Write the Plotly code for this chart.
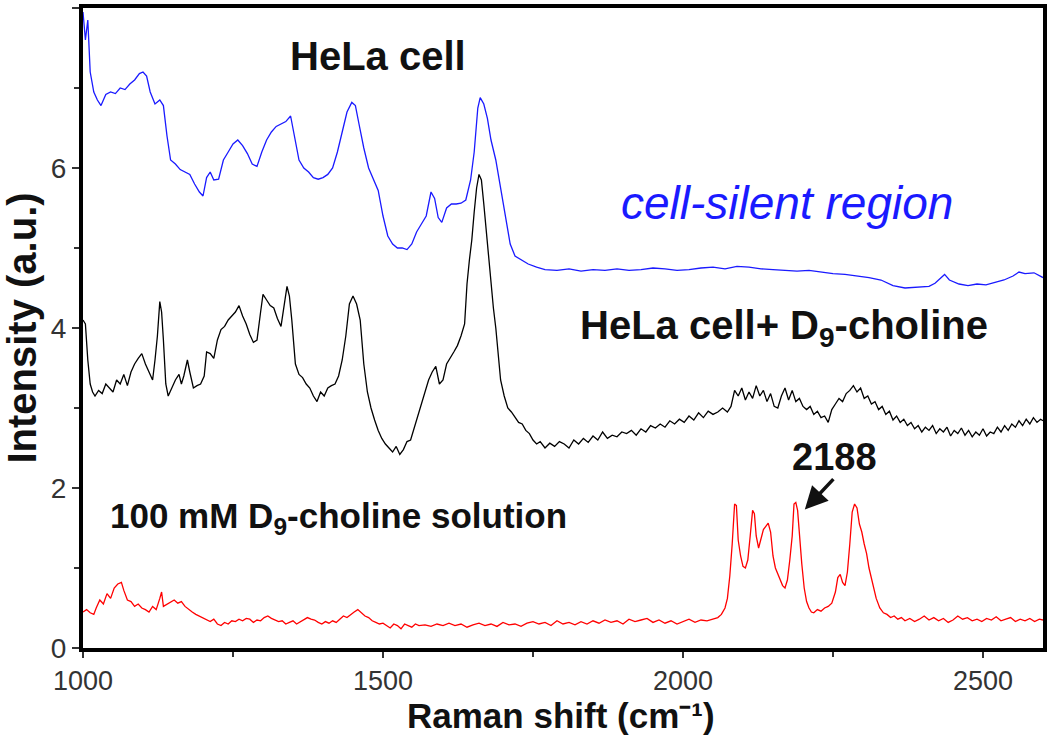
import plotly.graph_objects as go

# ---------------- data ----------------
hela_x = [1000,1004,1008,1012,1018,1024,1030,1038,1046,1054,1062,1070,1078,1086,1094,1100,1106,1112,1120,1128,
          1134,1140,1146,1154,1162,1170,1178,1186,1194,1200,1206,1212,1218,1226,1234,1242,1250,1258,1266,1274,
          1282,1290,1298,1306,1314,1322,1330,1338,1346,1352,1360,1368,1376,1384,1392,1400,1408,1416,1424,1432,
          1440,1448,1454,1460,1468,1476,1484,1492,1500,1508,1516,1524,1532,1540,1548,1556,1564,1572,1580,1586,
          1592,1598,1606,1614,1622,1630,1638,1646,1652,1658,1662,1668,1674,1680,1688,1696,1704,1712,1720,1730,
          1742,1756,1770,1790,1810,1830,1850,1870,1890,1910,1930,1950,1970,1990,2010,2030,2050,2070,2090,2110,
          2130,2150,2170,2190,2210,2230,2250,2270,2290,2310,2330,2350,2370,2390,2410,2420,2428,2436,2444,2452,
          2460,2475,2490,2505,2520,2535,2550,2560,2570,2585,2600]
hela_y = [7.95,7.6,7.85,7.2,6.95,6.85,6.78,6.92,6.95,6.93,7.0,6.98,7.05,7.1,7.18,7.2,7.15,6.95,6.8,6.85,
          6.78,6.4,6.1,6.05,5.98,5.95,5.92,5.8,5.7,5.65,5.88,5.95,5.85,5.86,6.1,6.2,6.3,6.35,6.28,6.18,
          6.05,6.02,6.2,6.35,6.45,6.52,6.55,6.58,6.65,6.4,6.1,6.0,5.95,5.88,5.86,5.88,5.92,6.0,6.2,6.45,
          6.7,6.82,6.78,6.55,6.25,6.0,5.85,5.72,5.4,5.15,5.05,5.0,5.0,4.98,5.05,5.2,5.3,5.4,5.7,5.62,
          5.38,5.32,5.5,5.55,5.55,5.56,5.6,5.85,6.2,6.75,6.88,6.8,6.62,6.35,6.1,5.75,5.35,5.05,4.9,4.85,
          4.8,4.76,4.73,4.72,4.74,4.71,4.73,4.72,4.74,4.72,4.73,4.75,4.74,4.72,4.73,4.75,4.76,4.74,4.77,4.76,
          4.74,4.73,4.72,4.71,4.72,4.7,4.68,4.67,4.65,4.63,4.6,4.53,4.5,4.51,4.52,4.56,4.62,4.67,4.6,4.57,
          4.55,4.53,4.55,4.54,4.57,4.6,4.65,4.7,4.68,4.69,4.63]

chol_x = [1000,1004,1008,1012,1016,1020,1026,1032,1038,1044,1050,1056,1062,1068,1074,1080,1086,1092,1098,1104,
          1110,1116,1120,1124,1128,1131,1134,1138,1142,1148,1154,1160,1164,1168,1174,1178,1184,1190,1196,1202,
          1206,1212,1218,1224,1230,1236,1242,1248,1254,1260,1266,1272,1278,1284,1290,1296,1300,1306,1312,1318,
          1324,1330,1336,1340,1344,1348,1354,1360,1366,1372,1378,1384,1390,1396,1402,1408,1414,1420,1426,1432,
          1438,1444,1450,1456,1462,1468,1474,1480,1486,1492,1498,1504,1510,1516,1522,1528,1534,1540,1546,1552,
          1558,1564,1570,1576,1582,1588,1594,1600,1606,1612,1618,1624,1630,1636,1640,1644,1648,1652,1656,1660,
          1664,1668,1672,1676,1680,1684,1688,1692,1696,1702,1708,1714,1720,1726,1732,1738,1744,1750,1756,1762,
          1770,1778,1786,1794,1802,1810,1818,1826,1834,1842,1850,1858,1866,1874,1882,1890,1898,1906,1914,1922,
          1930,1938,1946,1954,1962,1970,1978,1986,1994,2002,2010,2018,2026,2034,2042,2050,2058,2066,2074,2080,
          2086,2092,2098,2104,2110,2116,2122,2128,2134,2140,2146,2152,2158,2164,2170,2176,2182,2188,2194,2200,
          2206,2212,2218,2224,2230,2236,2242,2248,2254,2260,2266,2272,2278,2284,2290,2296,2302,2308,2314,2320,
          2326,2332,2338,2344,2350,2356,2362,2368,2374,2380,2386,2392,2398,2404,2410,2416,2422,2428,2434,2440,
          2446,2452,2458,2464,2470,2476,2482,2488,2494,2500,2506,2512,2518,2524,2530,2536,2542,2548,2554,2560,
          2566,2572,2578,2584,2590,2596,2600]
chol_y = [4.1,4.05,3.6,3.3,3.2,3.15,3.22,3.18,3.3,3.25,3.2,3.35,3.3,3.42,3.28,3.45,3.55,3.62,3.68,3.55,
          3.45,3.35,3.6,3.9,4.33,4.2,3.85,3.3,3.15,3.25,3.35,3.42,3.3,3.4,3.6,3.45,3.25,3.28,3.3,3.4,
          3.7,3.68,3.62,3.85,3.98,4.02,4.1,4.15,4.2,4.28,4.15,4.05,3.92,3.82,3.85,4.2,4.42,4.35,4.28,4.25,
          4.12,4.02,4.35,4.52,4.4,4.1,3.55,3.42,3.38,3.3,3.25,3.15,3.08,3.2,3.15,3.25,3.28,3.3,3.4,3.6,
          3.9,4.3,4.4,4.3,4.1,3.55,3.2,3.0,2.85,2.72,2.62,2.55,2.5,2.45,2.52,2.42,2.48,2.58,2.6,2.75,
          2.9,3.05,3.2,3.35,3.45,3.52,3.3,3.35,3.55,3.62,3.7,3.78,3.9,4.05,4.55,4.85,5.1,5.45,5.75,5.92,
          5.85,5.55,5.2,4.9,4.55,4.25,4.0,3.7,3.35,3.15,3.0,2.95,2.88,2.82,2.8,2.72,2.68,2.6,2.55,2.58,
          2.5,2.56,2.52,2.58,2.55,2.5,2.6,2.55,2.62,2.57,2.65,2.6,2.7,2.62,2.66,2.64,2.7,2.68,2.72,2.66,
          2.74,2.7,2.78,2.75,2.8,2.76,2.84,2.8,2.86,2.82,2.9,2.85,2.94,2.88,2.96,2.92,2.95,3.0,2.95,3.02,
          3.22,3.15,3.25,3.1,3.2,3.12,3.28,3.15,3.22,3.08,3.18,3.02,3.0,3.15,3.25,3.1,3.22,3.08,3.12,3.02,
          2.98,3.02,2.92,2.96,2.88,2.9,2.82,2.98,3.05,3.12,3.08,3.18,3.22,3.28,3.2,3.25,3.12,3.15,3.05,3.08,
          2.98,3.02,2.92,2.96,2.85,2.9,2.82,2.86,2.78,2.82,2.74,2.78,2.7,2.76,2.72,2.78,2.68,2.74,2.7,2.76,
          2.65,2.72,2.68,2.75,2.66,2.72,2.64,2.7,2.66,2.74,2.65,2.7,2.68,2.76,2.7,2.78,2.72,2.8,2.76,2.84,
          2.78,2.86,2.8,2.88,2.82,2.86,2.84]

sol_x = [1000,1006,1012,1018,1022,1028,1034,1040,1046,1052,1058,1064,1068,1074,1080,1086,1092,1098,1104,1110,
         1116,1122,1128,1131,1134,1140,1146,1152,1158,1164,1170,1176,1182,1188,1194,1200,1206,1212,1218,1224,
         1230,1236,1242,1248,1254,1260,1266,1272,1278,1284,1290,1296,1302,1308,1314,1320,1326,1332,1338,1344,
         1350,1356,1362,1368,1374,1380,1386,1392,1398,1404,1410,1416,1422,1428,1434,1440,1446,1452,1458,1464,
         1470,1476,1482,1488,1494,1500,1506,1512,1518,1524,1530,1536,1542,1548,1554,1560,1570,1580,1590,1600,
         1610,1620,1630,1640,1650,1660,1670,1680,1690,1700,1710,1720,1730,1740,1750,1760,1770,1780,1790,1800,
         1810,1820,1830,1840,1850,1860,1870,1880,1890,1900,1910,1920,1930,1940,1950,1960,1970,1980,1990,2000,
         2010,2020,2030,2040,2050,2058,2064,2070,2074,2078,2082,2086,2089,2092,2096,2100,2104,2108,2112,2116,
         2119,2122,2126,2130,2134,2138,2142,2146,2150,2154,2158,2162,2166,2170,2174,2178,2182,2185,2188,2191,
         2194,2198,2202,2206,2210,2214,2218,2224,2230,2236,2242,2248,2254,2258,2262,2266,2270,2274,2278,2282,
         2286,2290,2294,2298,2302,2306,2310,2316,2322,2328,2334,2340,2346,2352,2358,2364,2370,2378,2386,2394,
         2402,2410,2418,2426,2434,2442,2450,2458,2466,2474,2482,2490,2498,2506,2514,2522,2530,2538,2546,2554,
         2562,2570,2578,2586,2594,2600]
sol_y = [0.45,0.48,0.44,0.42,0.5,0.6,0.55,0.68,0.62,0.75,0.8,0.82,0.72,0.6,0.58,0.52,0.55,0.5,0.48,0.45,
         0.52,0.48,0.62,0.7,0.52,0.55,0.58,0.6,0.56,0.58,0.52,0.48,0.45,0.42,0.4,0.38,0.35,0.33,0.36,0.3,
         0.28,0.32,0.3,0.34,0.33,0.36,0.34,0.37,0.36,0.32,0.35,0.34,0.38,0.4,0.37,0.35,0.33,0.34,0.3,0.32,
         0.34,0.3,0.33,0.36,0.38,0.36,0.35,0.32,0.3,0.33,0.31,0.34,0.32,0.36,0.4,0.38,0.42,0.45,0.48,0.44,
         0.4,0.38,0.34,0.32,0.3,0.31,0.28,0.25,0.3,0.28,0.24,0.3,0.28,0.26,0.3,0.28,0.29,0.27,0.3,0.28,
         0.31,0.28,0.3,0.26,0.29,0.31,0.28,0.3,0.27,0.32,0.29,0.3,0.27,0.31,0.33,0.3,0.32,0.28,0.34,0.3,
         0.32,0.29,0.33,0.3,0.34,0.31,0.35,0.32,0.34,0.3,0.36,0.33,0.35,0.37,0.32,0.35,0.31,0.34,0.3,0.33,
         0.36,0.32,0.35,0.34,0.36,0.38,0.42,0.5,0.62,0.9,1.3,1.8,1.78,1.35,1.15,1.02,1.0,1.1,1.4,1.72,
         1.68,1.4,1.25,1.35,1.48,1.52,1.56,1.45,1.15,1.0,0.92,0.85,0.78,0.75,0.85,1.1,1.4,1.8,1.82,1.72,
         1.4,1.05,0.75,0.58,0.5,0.45,0.44,0.48,0.46,0.5,0.52,0.56,0.7,0.88,0.92,0.82,0.78,0.95,1.3,1.7,
         1.8,1.75,1.55,1.45,1.3,1.18,1.0,0.8,0.62,0.5,0.44,0.42,0.38,0.4,0.36,0.38,0.34,0.37,0.33,0.36,
         0.4,0.35,0.38,0.34,0.37,0.32,0.35,0.4,0.36,0.38,0.34,0.36,0.33,0.37,0.35,0.39,0.34,0.36,0.38,0.33,
         0.36,0.34,0.37,0.33,0.36,0.35]

x_ticks = [1000, 1500, 2000, 2500]
y_ticks = [0, 2, 4, 6, 8]

FONT = "Arial, Liberation Sans, sans-serif"

fig = go.Figure()
fig.add_trace(go.Scatter(x=hela_x, y=hela_y, mode="lines",
                         line=dict(color="#1a1aff", width=1.3), showlegend=False))
fig.add_trace(go.Scatter(x=chol_x, y=chol_y, mode="lines",
                         line=dict(color="#000000", width=1.3), showlegend=False))
fig.add_trace(go.Scatter(x=sol_x, y=sol_y, mode="lines",
                         line=dict(color="#ff0000", width=1.3), showlegend=False))

ann_bold = dict(family=FONT, size=40, color="#111111")
fig.add_annotation(x=1491, y=7.4, text="<b>HeLa cell</b>", showarrow=False, font=ann_bold)
fig.add_annotation(x=2173, y=5.56, text="<i>cell-silent region</i>", showarrow=False,
                   font=dict(family=FONT, size=46, color="#1a1aff"))
fig.add_annotation(x=2168, y=4.0, text="<b>HeLa cell+ D<sub>9</sub>-choline</b>", showarrow=False, font=ann_bold)
fig.add_annotation(x=1425, y=1.62, text="<b>100 mM D<sub>9</sub>-choline solution</b>", showarrow=False,
                   font=dict(family=FONT, size=35, color="#111111"))
fig.add_annotation(x=2253, y=2.39, text="<b>2188</b>", showarrow=False,
                   font=dict(family=FONT, size=38, color="#111111"))
fig.add_annotation(x=2203, y=1.73, ax=2253, ay=2.13, axref="x", ayref="y", text="",
                   showarrow=True, arrowhead=2, arrowsize=1.3, arrowwidth=3.5, arrowcolor="#111111")

# x-axis title as a paper-positioned text, anchored at its bottom so it stays inside the page
fig.add_annotation(x=0.498, y=-0.137, xref="paper", yref="paper", xanchor="center", yanchor="bottom",
                   text="<b>Raman shift (cm⁻¹)</b>", showarrow=False, borderpad=0,
                   font=dict(family=FONT, size=35, color="#111111"))

fig.update_xaxes(range=[1000, 2600], tickvals=x_ticks, ticktext=[str(v) for v in x_ticks],
                 ticks="outside", ticklen=6, tickwidth=1.5, tickcolor="#333",
                 minor=dict(dtick=250, tick0=1000, ticks="outside", ticklen=5, tickwidth=1.5, tickcolor="#333"),
                 showline=True, linewidth=4, linecolor="black", mirror=True, showgrid=False, zeroline=False,
                 tickfont=dict(family=FONT, size=27, color="#333333"))
fig.update_yaxes(range=[0, 8], tickvals=y_ticks, ticktext=[str(v) for v in y_ticks],
                 ticks="outside", ticklen=7, tickwidth=1.5, tickcolor="#333",
                 minor=dict(dtick=1, tick0=0, ticks="outside", ticklen=5, tickwidth=1.5, tickcolor="#333"),
                 showline=True, linewidth=4, linecolor="black", mirror=True, showgrid=False, zeroline=False,
                 tickfont=dict(family=FONT, size=28, color="#333333"),
                 title=dict(text="<b>Intensity (a.u.)</b>", font=dict(family=FONT, size=40, color="#111"),
                            standoff=4))

fig.update_layout(width=1050, height=737, plot_bgcolor="white", paper_bgcolor="white",
                  margin=dict(l=83, r=3, t=8, b=89), showlegend=False)

# remove the browser's default page margin so the figure sits at the window's top-left corner
fig.write_html("out.html", config={"displayModeBar": False},
               post_script="document.body.style.margin='0';document.body.style.overflow='hidden';")
